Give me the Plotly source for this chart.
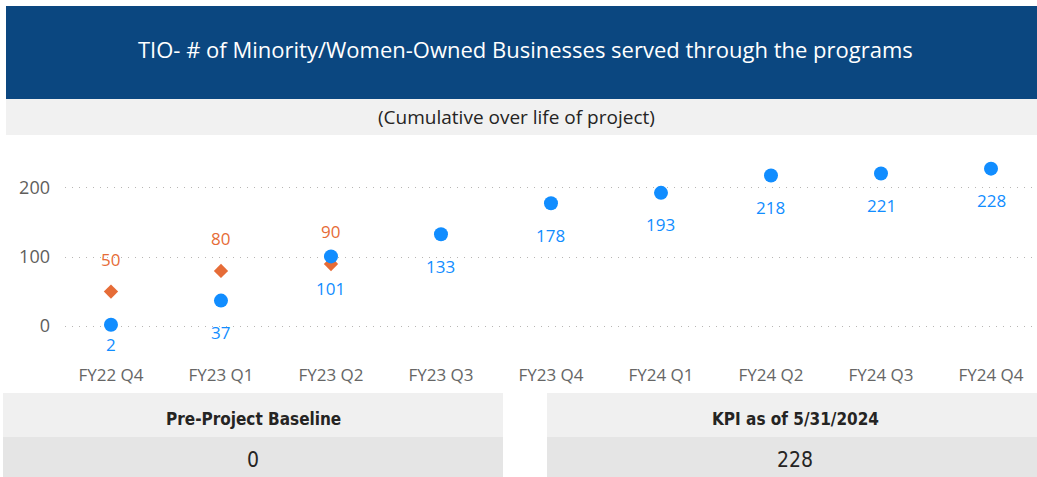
import plotly.graph_objects as go

# Quarterly cumulative counts
quarters = ['FY22 Q4', 'FY23 Q1', 'FY23 Q2', 'FY23 Q3', 'FY23 Q4',
            'FY24 Q1', 'FY24 Q2', 'FY24 Q3', 'FY24 Q4']
actual = [2, 37, 101, 133, 178, 193, 218, 221, 228]
target_quarters = ['FY22 Q4', 'FY23 Q1', 'FY23 Q2']
target = [50, 80, 90]

title_text = 'TIO- # of Minority/Women-Owned Businesses served through the programs'
subtitle_text = '(Cumulative over life of project)'
baseline_label = 'Pre-Project Baseline'
baseline_value = 0
kpi_label = 'KPI as of 5/31/2024'
kpi_value = actual[-1]

W, H = 1037, 477
BLUE = '#118DFF'
ORANGE = '#E66C37'
FONT = 'Open Sans, Noto Sans, sans-serif'
NARROW = 'DejaVu Sans Condensed, Liberation Sans Narrow, Roboto, sans-serif'


def px(x0, y0, x1, y1):
    # pixel box -> paper coords
    return dict(x0=x0 / W, x1=x1 / W, y0=1 - y1 / H, y1=1 - y0 / H)


def label(text, x, y, size, color, family=FONT):
    # centred text at a pixel position
    return dict(text=text, x=x / W, y=1 - y / H, xref='paper', yref='paper',
                xanchor='center', yanchor='middle', showarrow=False,
                font=dict(family=family, size=size, color=color))


fig = go.Figure()

fig.add_trace(go.Scatter(
    x=target_quarters, y=target, mode='markers', name='Target',
    marker=dict(symbol='diamond', size=11, color=ORANGE),
    hoverinfo='x+y'
))

fig.add_trace(go.Scatter(
    x=quarters, y=actual, mode='markers', name='Actual',
    marker=dict(symbol='circle', size=14, color=BLUE),
    hoverinfo='x+y'
))

# data labels
annotations = []
for i, (q, v) in enumerate(zip(quarters, actual)):
    annotations.append(dict(
        x=q, y=v, xref='x', yref='y', text=str(v), showarrow=False,
        xanchor='center', yanchor='middle',
        yshift=-20 if i == 0 else -32,
        font=dict(family=FONT, size=17, color=BLUE)
    ))
for q, v in zip(target_quarters, target):
    annotations.append(dict(
        x=q, y=v, xref='x', yref='y', text=str(v), showarrow=False,
        xanchor='center', yanchor='middle',
        yshift=32, font=dict(family=FONT, size=17, color=ORANGE)
    ))

# header / subtitle bands and the two KPI cards
shapes = [
    dict(type='rect', xref='paper', yref='paper', line_width=0,
         fillcolor='#0B4780', layer='below', **px(6, 6, 1037, 99)),
    dict(type='rect', xref='paper', yref='paper', line_width=0,
         fillcolor='#F1F1F1', layer='below', **px(6, 99, 1037, 135)),
    dict(type='rect', xref='paper', yref='paper', line_width=0,
         fillcolor='#F0F0F0', layer='below', **px(3, 393, 503, 437)),
    dict(type='rect', xref='paper', yref='paper', line_width=0,
         fillcolor='#E5E5E5', layer='below', **px(3, 437, 503, 477)),
    dict(type='rect', xref='paper', yref='paper', line_width=0,
         fillcolor='#F0F0F0', layer='below', **px(547, 393, 1037, 437)),
    dict(type='rect', xref='paper', yref='paper', line_width=0,
         fillcolor='#E5E5E5', layer='below', **px(547, 437, 1037, 477)),
]

annotations += [
    label(title_text, 525, 49, 22, 'white'),
    label(subtitle_text, 516, 117, 19, '#252423'),
    label('<b>' + baseline_label + '</b>', 253, 419, 17, '#252423', NARROW),
    label(str(baseline_value), 253, 460, 21, '#252423', NARROW),
    label('<b>' + kpi_label + '</b>', 795, 419, 17, '#252423', NARROW),
    label(str(kpi_value), 795, 460, 21, '#252423', NARROW),
]

fig.update_layout(
    width=W, height=H,
    margin=dict(l=0, r=0, t=0, b=0),
    paper_bgcolor='white', plot_bgcolor='white',
    showlegend=False,
    xaxis=dict(
        domain=[65 / W, 1035 / W],
        type='category', categoryorder='array', categoryarray=quarters,
        range=[-0.418, 8.4], showgrid=False, zeroline=False, showline=False,
        ticks='', ticklabelstandoff=3,
        tickfont=dict(family=FONT, size=17, color='#666666'),
    ),
    yaxis=dict(
        domain=[1 - 360 / H, 1 - 150 / H],
        range=[-49, 255], tickvals=[0, 100, 200],
        showgrid=True, gridcolor='#B8B6B4', griddash='1px,6px', gridwidth=1,
        zeroline=False, showline=False, ticks='', ticklabelstandoff=14,
        tickfont=dict(family=FONT, size=18, color='#605E5C'),
    ),
    shapes=shapes,
    annotations=annotations,
)

# page has a default body margin; drop it so the figure sits at 0,0
fig.write_html('out.html', config={'displayModeBar': False},
               post_script="document.body.style.margin='0';")
